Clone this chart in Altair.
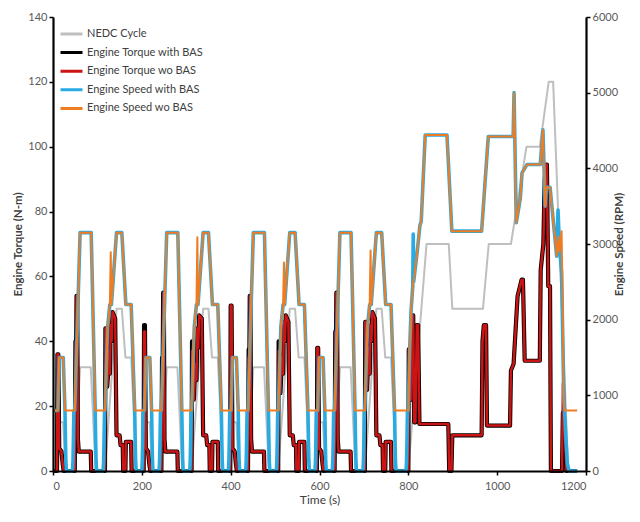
import altair as alt
import pandas as pd

# ---------------- data ----------------
CYCLE_STARTS = [0, 195, 390, 585]          # four urban (ECE) cycles

# NEDC vehicle speed (km/h, left axis)
NEDC_ECE_T = [0, 11, 15, 23, 28, 49, 61, 85, 96, 117, 143, 155, 163, 176, 188]
NEDC_ECE_V = [0, 0, 15, 15, 0, 0, 32, 32, 0, 0, 50, 50, 35, 35, 0]
NEDC_EUDC_T = [780, 800, 841, 891, 899, 968, 981, 1031, 1066, 1096, 1116, 1126, 1160, 1180]
NEDC_EUDC_V = [0, 0, 70, 70, 50, 50, 70, 70, 100, 100, 120, 120, 0, 0]

# Engine torque (N-m, left axis), times relative to each ECE cycle start
TQ_ECE_T = [0, 9, 10, 12, 14, 19, 22, 24,
            49, 50.5, 51.5, 53, 54.5, 56, 58, 85, 86,
            117, 118, 120, 122, 124, 126, 128, 130, 132, 134,
            140, 143, 150, 152, 157, 158, 163, 164, 176, 177]
TQ_WO_C1 = [0, 0, 36, 36, 7, 6, 2, 0, 0, 40, 25, 54, 54, 10, 6, 6, 0,
            0, 44, 44, 26, 30, 37, 30, 45, 40, 49, 47, 11, 11, 8, 8, 0, 0, 9, 9, 0]
TQ_WO_C2 = [0, 0, 43, 43, 7, 6, 2, 0, 0, 35, 22, 55, 55, 10, 6, 6, 0,
            0, 37, 37, 22, 28, 33, 28, 44, 38, 48, 47, 11, 11, 8, 8, 0, 0, 9, 9, 0]
TQ_WO_C3 = [0, 0, 51, 51, 7, 6, 2, 0, 0, 35, 22, 54, 54, 10, 6, 6, 0,
            0, 37, 37, 24, 30, 35, 30, 46, 40, 48, 46, 11, 11, 8, 8, 0, 0, 9, 9, 0]
TQ_WO_C4 = [0, 0, 38, 38, 7, 6, 2, 0, 0, 43, 25, 55, 55, 10, 6, 6, 0,
            0, 46, 46, 25, 32, 38, 30, 45, 40, 49, 47, 11, 11, 8, 8, 0, 0, 9, 9, 0]
TQ_WITH_C1 = [0, 0, 36, 36, 7, 6, 2, 0, 0, 40, 25, 54, 54, 10, 6, 6, 0,
              0, 44, 44, 26, 30, 37, 30, 45, 40, 49, 47, 11, 11, 8, 8, 0, 0, 9, 9, 0]
TQ_WITH_C2 = [0, 0, 45, 45, 7, 6, 2, 0, 0, 35, 22, 55, 55, 10, 6, 6, 0,
              0, 40, 40, 22, 28, 33, 28, 44, 38, 48, 47, 11, 11, 8, 8, 0, 0, 9, 9, 0]
TQ_WITH_C3 = [0, 0, 51, 51, 7, 6, 2, 0, 0, 37.5, 22, 54, 54, 10, 6, 6, 0,
              0, 40, 40, 24, 30, 35, 30, 46, 40, 48, 46, 11, 11, 8, 8, 0, 0, 9, 9, 0]
TQ_WITH_C4 = [0, 0, 38, 38, 7, 6, 2, 0, 0, 43, 25, 55, 55, 10, 6, 6, 0,
              0, 46, 46, 25, 32, 38, 30, 45, 40, 49, 47, 11, 11, 8, 8, 0, 0, 9, 9, 0]

TQ_EUDC_T = [780, 800, 801, 803, 806, 808, 811, 813, 816, 819,
             822, 825, 890, 892, 897, 899, 965, 967, 970, 975,
             977, 1029, 1031, 1037, 1046, 1055, 1058, 1062, 1096, 1098,
             1101, 1104, 1107, 1110, 1112, 1115, 1119, 1121, 1146, 1148,
             1150, 1153, 1156, 1180]
TQ_WO_EUDC_V = [0, 0, 37.5, 30, 22, 40, 48, 15, 15, 45,
                45, 14.5, 14.5, 0, 0, 11, 11, 40, 45, 45,
                14, 14, 31, 33, 54, 59, 59, 34, 34, 62,
                66, 70, 90, 94.5, 94.5, 57, 57, 0, 0, 27,
                27, 10, 0, 0]
TQ_WITH_EUDC_V = [0, 0, 37.5, 30, 22, 40, 48, 15, 15, 45,
                  45, 14.5, 14.5, 0, 0, 11, 11, 40, 45, 45,
                  14, 14, 31, 33, 54, 59, 59, 34, 34, 62,
                  66, 70, 90, 94.5, 94.5, 57, 57, 0, 0, 18,
                  18, 8, 0, 0]

# Engine speed without BAS (RPM, right axis)
SPD_WO_ECE_T = [0, 11, 14, 23, 27, 49, 61, 86, 95, 117, 123, 128, 130, 131.5,
                143, 155, 164, 176, 184]
SPD_WO_C1 = [800, 800, 1500, 1500, 800, 800, 3150, 3150, 800, 800, 1900, 2200, 2890, 2200,
             3150, 3150, 2200, 2200, 800]
SPD_WO_C2 = [800, 800, 1500, 1500, 800, 800, 3150, 3150, 800, 800, 1900, 2200, 3090, 2200,
             3150, 3150, 2200, 2200, 800]
SPD_WO_C3 = [800, 800, 1500, 1500, 800, 800, 3150, 3150, 800, 800, 1900, 2200, 2755, 2200,
             3150, 3150, 2200, 2200, 800]
SPD_WO_C4 = [800, 800, 1500, 1500, 800, 800, 3150, 3150, 800, 800, 1900, 2200, 2915, 2200,
             3150, 3150, 2200, 2200, 800]
SPD_WO_EUDC_T = [780, 800, 803, 806, 810, 813, 820, 826, 829, 838,
                 887, 898, 965, 980, 1036, 1038, 1043, 1052, 1056, 1067,
                 1097, 1103, 1108, 1111, 1119, 1134, 1137, 1140, 1145, 1147,
                 1150, 1152, 1180]
SPD_WO_EUDC_V = [800, 800, 1600, 2100, 2450, 2550, 2900, 3240, 3300, 4440,
                 4440, 3170, 3170, 4420, 4420, 5000, 3280, 3600, 3940, 4050,
                 4050, 4510, 3500, 3750, 3750, 2840, 3100, 2900, 3170, 2400,
                 900, 800, 800]

# Engine speed with BAS (RPM, right axis) - engine stops at standstill
SPD_WITH_ECE_T = [0, 4, 5, 6, 7, 8, 11, 14, 23, 27, 28, 29, 30, 31,
                  43, 44, 45, 46, 47, 49, 61, 86, 95, 96, 97, 98, 99,
                  112, 113, 114, 115, 116, 117, 123, 128, 131.5, 143, 155, 164, 176, 184,
                  185, 186, 187, 188]
SPD_WITH_C1 = [800, 800, 800, 800, 800, 800, 800, 1500, 1500, 800, 420, 130, 20, 0,
               0, 20, 130, 420, 800, 800, 3150, 3150, 800, 420, 130, 20, 0,
               0, 20, 130, 420, 800, 800, 1900, 2200, 2200, 3150, 3150, 2200, 2200, 800,
               420, 130, 20, 0]
SPD_WITH_CN = [0, 0, 20, 130, 420, 800, 800, 1500, 1500, 800, 420, 130, 20, 0,
               0, 20, 130, 420, 800, 800, 3150, 3150, 800, 420, 130, 20, 0,
               0, 20, 130, 420, 800, 800, 1900, 2200, 2200, 3150, 3150, 2200, 2200, 800,
               420, 130, 20, 0]
SPD_WITH_EUDC_T = [780, 794, 795, 796, 797, 798, 800, 803, 806, 810,
                   811, 812, 813, 820, 826, 829, 838, 887, 898, 965,
                   980, 1036, 1038, 1043, 1052, 1056, 1067, 1097, 1103, 1108,
                   1111, 1119, 1134, 1137, 1140, 1145, 1150, 1155, 1158, 1162,
                   1180]
SPD_WITH_EUDC_V = [0, 0, 20, 130, 420, 800, 800, 1600, 2100, 2450,
                   3130, 2500, 2550, 2900, 3240, 3300, 4440, 4440, 3170, 3170,
                   4420, 4420, 5000, 3280, 3600, 3940, 4050, 4050, 4510, 3500,
                   3750, 3750, 2840, 3450, 3000, 2620, 1000, 400, 100, 0,
                   0]

NAMES = ["NEDC Cycle", "Engine Torque with BAS", "Engine Torque wo BAS",
         "Engine Speed with BAS", "Engine Speed wo BAS"]
COLORS = ["#bfbfbf", "#000000", "#cc1414", "#29abe2", "#f07c22"]


def build(name, ece_t, ece_cycles, eudc_t, eudc_v):
    rows = []
    for start, vals in zip(CYCLE_STARTS, ece_cycles):
        for t, v in zip(ece_t, vals):
            rows.append((start + t, v))
    rows += list(zip(eudc_t, eudc_v))
    df = pd.DataFrame(rows, columns=["t", "v"])
    df["i"] = range(len(df))
    df["series"] = name
    return df


df_nedc = build(NAMES[0], NEDC_ECE_T, [NEDC_ECE_V] * 4, NEDC_EUDC_T, NEDC_EUDC_V)
df_tq_with = build(NAMES[1], TQ_ECE_T, [TQ_WITH_C1, TQ_WITH_C2, TQ_WITH_C3, TQ_WITH_C4],
                   TQ_EUDC_T, TQ_WITH_EUDC_V)
df_tq_wo = build(NAMES[2], TQ_ECE_T, [TQ_WO_C1, TQ_WO_C2, TQ_WO_C3, TQ_WO_C4],
                 TQ_EUDC_T, TQ_WO_EUDC_V)
df_sp_with = build(NAMES[3], SPD_WITH_ECE_T, [SPD_WITH_C1, SPD_WITH_CN, SPD_WITH_CN, SPD_WITH_CN],
                   SPD_WITH_EUDC_T, SPD_WITH_EUDC_V)
df_sp_wo = build(NAMES[4], SPD_WO_ECE_T, [SPD_WO_C1, SPD_WO_C2, SPD_WO_C3, SPD_WO_C4],
                 SPD_WO_EUDC_T, SPD_WO_EUDC_V)

FONT = "Lato"
color_scale = alt.Scale(domain=NAMES, range=COLORS)
legend = alt.Legend(title=None, orient="none", legendX=6, legendY=9,
                    symbolType="stroke", symbolSize=484, symbolStrokeWidth=3,
                    clipHeight=16, rowPadding=2.6, labelFont=FONT, labelFontSize=11,
                    labelColor="#404040", labelOffset=3)

x_enc = alt.X("t:Q", scale=alt.Scale(domain=[0, 1200], nice=False),
              axis=alt.Axis(values=list(range(0, 1201, 200)), title="Time (s)", format="d",
                            titleFontWeight="normal", titleFontSize=12, titlePadding=3,
                            labelPadding=5, zindex=1))
y_left = alt.Y("v:Q", scale=alt.Scale(domain=[0, 140], nice=False),
               axis=alt.Axis(values=list(range(0, 141, 20)), title="Engine Torque (N-m)",
                             orient="left", titlePadding=4, labelPadding=2, format="d",
                             zindex=1))
y_right = alt.Y("v:Q", scale=alt.Scale(domain=[0, 6000], nice=False),
                axis=alt.Axis(values=list(range(0, 6001, 1000)), title="Engine Speed (RPM)",
                              orient="right", titleAngle=270, titlePadding=7, format="d",
                              zindex=1))


def line(df, width, y_enc):
    return alt.Chart(df).mark_line(strokeWidth=width, strokeJoin="round").encode(
        x=x_enc, y=y_enc, order="i:Q",
        color=alt.Color("series:N", scale=color_scale, legend=legend))


left = alt.layer(line(df_nedc, 2, y_left), line(df_tq_with, 4.2, y_left),
                 line(df_tq_wo, 2.5, y_left))
right = alt.layer(line(df_sp_with, 3.6, y_right), line(df_sp_wo, 2, y_right))

chart = alt.layer(left, right).resolve_scale(y="independent").properties(
    width=533, height=454,
    autosize=alt.AutoSizeParams(type="none"),
    padding={"left": 45, "top": 9, "right": 46, "bottom": 41},
).configure_view(stroke=None).configure_axis(
    domainColor="#000000", domainWidth=2.2, tickColor="#000000", tickWidth=1.5,
    tickSize=4, grid=False, labelFont=FONT, labelFontSize=11, labelColor="#595959",
    titleFont=FONT, titleFontSize=11.5, titleColor="#404040", titleFontWeight="bold",
)

chart.save("out.html", embed_options={"renderer": "svg", "actions": False})
